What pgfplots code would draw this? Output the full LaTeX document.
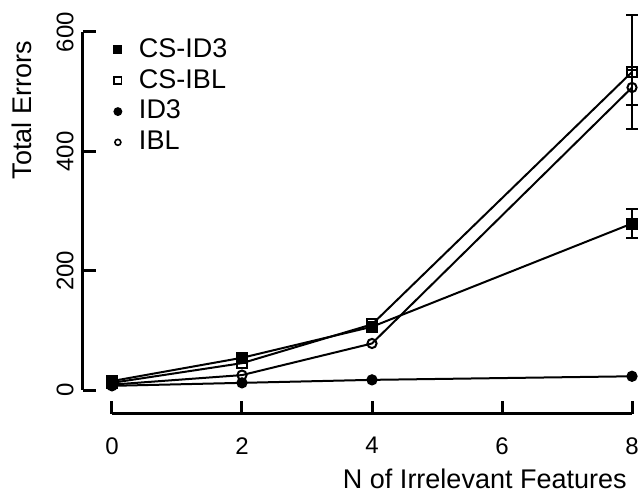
\documentclass[border=0pt]{standalone}
\usepackage{fontspec}
\setmainfont{Liberation Sans}
\usepackage{pgfplots}
\pgfplotsset{compat=1.18}
\begin{document}
\fontsize{13.5}{16}\selectfont
\begin{tikzpicture}
\useasboundingbox (-41.5pt,-39pt) rectangle (277.5pt,207pt);
\begin{axis}[
  scale only axis, width=274.5pt, height=191pt,
  xmin=-0.446, xmax=8, ymin=-40.2, ymax=600,
  clip=false,
  axis x line*=bottom, axis y line*=left,
  x axis line style={-, line width=1.5pt, shorten <=14.5pt},
  y axis line style={-, line width=1.5pt, shorten <=12pt},
  xtick={0,2,4,6,8}, ytick={0,200,400,600},
  tick align=inside, major tick length=6.5pt,
  tick style={line width=1.5pt, black},
  minor tick num=0,
  /pgf/number format/assume math mode=true,
  tick label style={font=\fontsize{12}{14}\selectfont},
  xticklabel style={yshift=-7pt},
  yticklabel style={rotate=90, anchor=south},
  xlabel={N of Irrelevant Features},
  ylabel={Total Errors},
  label style={font=\fontsize{13.5}{16}\selectfont},
  xlabel style={at={(rel axis cs:1.0073,-0.1963)}, anchor=base east},
  ylabel style={at={(rel axis cs:-0.0929,1)}, anchor=base east},
  legend style={draw=none, fill=none, at={(rel axis cs:0.051,0.995)}, anchor=north west,
    font=\fontsize{13.5}{16}\selectfont, row sep=0pt, inner sep=0pt},
  legend cell align=left,
  legend image code/.code={\path (0pt,0pt) (11pt,0pt); \draw[#1] plot coordinates {(0.1cm,0cm)};},
]
\addlegendimage{black, mark=square*, mark size=1.8pt, line width=0.8pt}
\addlegendentry{CS-ID3}
\addlegendimage{black, mark=square, mark size=1.8pt, line width=0.8pt}
\addlegendentry{CS-IBL}
\addlegendimage{black, mark=*, mark size=1.8pt, line width=0.8pt}
\addlegendentry{ID3}
\addlegendimage{black, mark=o, mark size=1.5pt, line width=0.8pt}
\addlegendentry{IBL}

% CS-ID3
\addplot[forget plot, black, line width=1pt, mark=square*, mark size=2.5pt, mark options={solid, fill=black},
  error bars/.cd, y dir=both, y explicit,
  error bar style={line width=1pt, black},
  error mark options={rotate=90, mark size=3pt, line width=1pt, black}]
  coordinates {(0,15) (2,54) (4,106) (8,279) +- (0,24)};
% CS-IBL
\addplot[forget plot, black, line width=1pt, mark=square, mark size=2.5pt, mark options={solid},
  error bars/.cd, y dir=both, y explicit,
  error bar style={line width=1pt, black},
  error mark options={rotate=90, mark size=3pt, line width=1pt, black}]
  coordinates {(0,12) (2,45) (4,110) (8,533) +- (0,95)};
% ID3
\addplot[forget plot, black, line width=1pt, mark=*, mark size=2.3pt, mark options={solid, fill=black}]
  coordinates {(0,7) (2,12) (4,17) (8,23)};
% IBL
\addplot[forget plot, black, line width=1pt, mark=o, mark size=2.3pt, mark options={solid},
  error bars/.cd, y dir=both, y explicit,
  error bar style={line width=1pt, black},
  error mark options={rotate=90, mark size=3pt, line width=1pt, black}]
  coordinates {(0,9) (2,25) (4,78) (8,507) +- (0,30)};
\end{axis}
\end{tikzpicture}
\end{document}
